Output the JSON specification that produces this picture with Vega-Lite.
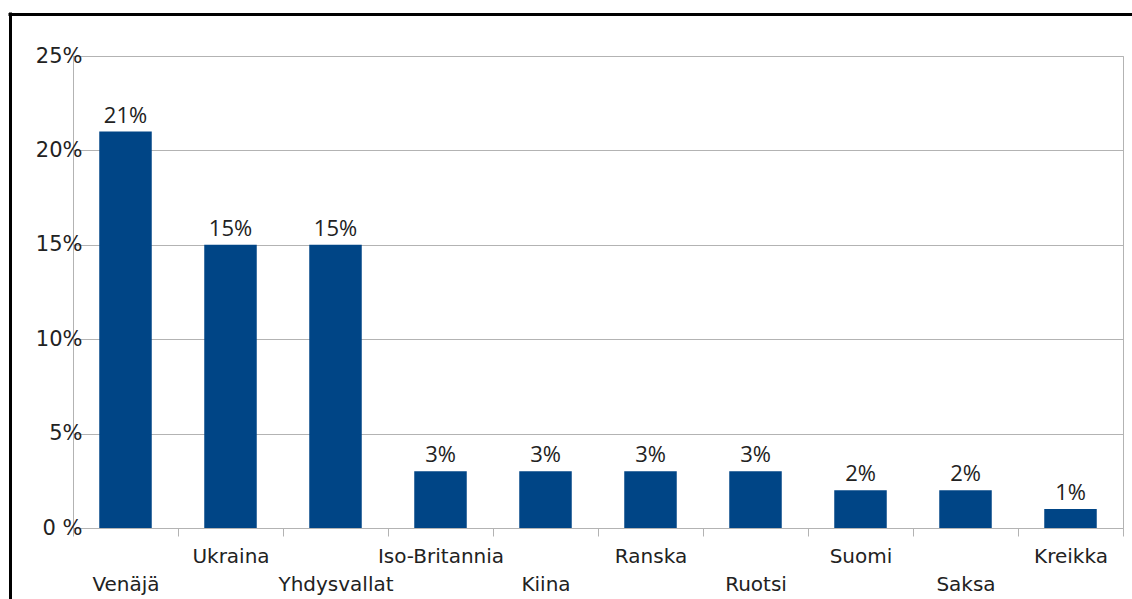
{
  "$schema": "https://vega.github.io/schema/vega-lite/v6.json",
  "width": 1050,
  "height": 472,
  "autosize": {"type": "none"},
  "padding": {"left": 73, "top": 56, "right": 9, "bottom": 71},
  "background": "white",
  "config": {
    "view": {"stroke": "#b3b3b3", "strokeWidth": 1},
    "axis": {"labelColor": "#222222", "titleColor": "#222222"}
  },
  "data": {
    "values": [
      {"country": "Venäjä", "value": 0.21},
      {"country": "Ukraina", "value": 0.15},
      {"country": "Yhdysvallat", "value": 0.15},
      {"country": "Iso-Britannia", "value": 0.03},
      {"country": "Kiina", "value": 0.03},
      {"country": "Ranska", "value": 0.03},
      {"country": "Ruotsi", "value": 0.03},
      {"country": "Suomi", "value": 0.02},
      {"country": "Saksa", "value": 0.02},
      {"country": "Kreikka", "value": 0.01}
    ]
  },
  "resolve": {"scale": {"x": "independent", "y": "independent"}, "axis": {"x": "independent", "y": "independent"}},
  "layer": [
    {
      "encoding": {
        "x": {
          "field": "country",
          "type": "nominal",
          "sort": null,
          "scale": {"paddingInner": 0, "paddingOuter": 0},
          "axis": {
            "title": null,
            "labelAngle": 0,
            "labelFont": "DejaVu Sans",
            "labelFontSize": 20,
            "labelBaseline": "top",
            "labelOverlap": false,
            "labelLimit": 0,
            "labelPadding": {
              "condition": {"test": "indexof(['Venäjä','Yhdysvallat','Kiina','Ruotsi','Saksa'], datum.value) >= 0", "value": 38},
              "value": 10
            },
            "tickBand": "extent",
            "tickSize": 8,
            "tickColor": "#b3b3b3",
            "domainColor": "#b3b3b3",
            "grid": false
          }
        },
        "y": {
          "field": "value",
          "type": "quantitative",
          "scale": {"domain": [0, 0.25], "nice": false},
          "axis": {
            "title": null,
            "values": [0, 0.05, 0.1, 0.15, 0.2, 0.25],
            "labelExpr": "datum.value == 0 ? '0 %' : format(datum.value, '.0%')",
            "labelFont": "DejaVu Sans",
            "labelFontSize": 21,
            "ticks": false,
            "labelPadding": -9,
            "domain": false,
            "grid": true,
            "gridColor": "#b3b3b3",
            "gridWidth": 1
          }
        }
      },
      "layer": [
        {"mark": {"type": "bar", "color": "#004586", "width": {"band": 0.5}}},
        {
          "mark": {"type": "text", "baseline": "alphabetic", "dy": -9, "font": "Open Sans", "fontSize": 22, "color": "#222222"},
          "encoding": {"text": {"field": "value", "type": "quantitative", "format": ".0%"}}
        }
      ]
    },
    {
      "mark": {"type": "point", "opacity": 0},
      "encoding": {
        "x": {
          "field": "value",
          "type": "quantitative",
          "scale": {"range": [-65, 1059], "nice": false, "zero": false},
          "axis": {"orient": "top", "offset": 42, "title": null, "labels": false, "ticks": false, "grid": false, "domainColor": "black", "domainWidth": 3}
        },
        "y": {
          "field": "value",
          "type": "quantitative",
          "scale": {"range": [543, -44], "nice": false, "zero": false},
          "axis": {"orient": "left", "offset": 63, "title": null, "labels": false, "ticks": false, "grid": false, "domainColor": "black", "domainWidth": 3}
        }
      }
    }
  ]
}
